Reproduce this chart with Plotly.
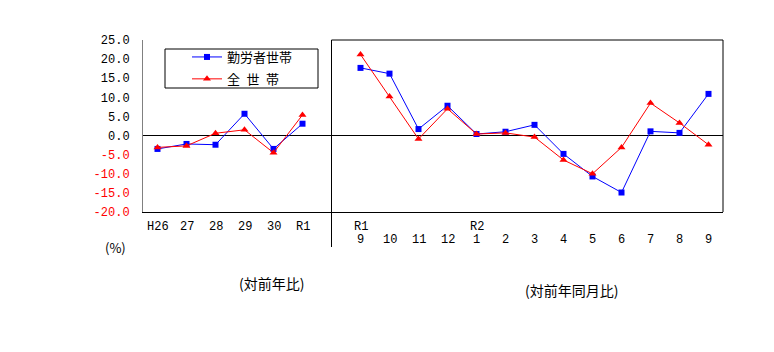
import plotly.graph_objects as go

# ---- data ----
left_labels = ["H26", "27", "28", "29", "30", "R1"]
right_top = ["R1", "", "", "", "R2", "", "", "", "", "", "", "", ""]
right_bottom = ["9", "10", "11", "12", "1", "2", "3", "4", "5", "6", "7", "8", "9"]

workers_annual = [-3.5, -2.2, -2.4, 5.7, -3.5, 3.1]
all_annual = [-3.1, -2.7, 0.6, 1.5, -4.5, 5.4]
workers_monthly = [17.7, 16.2, 1.7, 7.8, 0.4, 1.0, 2.8, -4.8, -10.7, -14.9, 1.1, 0.7, 10.9]
all_monthly = [21.2, 10.2, -0.9, 7.0, 0.4, 0.7, -0.4, -6.4, -10.0, -3.1, 8.5, 3.3, -2.4]

y_ticks = [25, 20, 15, 10, 5, 0, -5, -10, -15, -20]
series_names = ["勤労者世帯", "全\u2002世\u2002帯"]
note_unit = "(%)"
note_left = "(対前年比)"
note_right = "(対前年同月比)"

# ---- geometry helpers ----
W, H = 774, 352
L, R, T, B = 143, 723, 40, 212
def px_x(p):
    return (p - L) / (R - L)
def px_y(p):
    return (B - p) / (B - T)

n_left = len(left_labels)
n_right = len(right_bottom)
gap = n_left  # empty slot between panels
x_left = list(range(n_left))
x_right = [n_left + 1 + i for i in range(n_right)]
n_total = n_left + 1 + n_right

xs = x_left + [gap] + x_right
workers = workers_annual + [None] + workers_monthly
allh = all_annual + [None] + all_monthly

mono = "Liberation Mono, DejaVu Sans Mono, monospace"
jp = "Noto Sans CJK JP, sans-serif"

fig = go.Figure()
fig.add_trace(go.Scatter(
    x=xs, y=workers, name=series_names[0], mode="lines+markers",
    line=dict(color="#0000FF", width=1),
    marker=dict(symbol="square", size=6, color="#0000FF"),
    connectgaps=False, legendgroup="a"))
fig.add_trace(go.Scatter(
    x=xs, y=allh, name=series_names[1], mode="lines+markers",
    line=dict(color="#FF0000", width=1),
    marker=dict(symbol="triangle-up", size=7, color="#FF0000"),
    connectgaps=False, legendgroup="b"))
# empty helper trace so the overlay axis (red negative labels) is drawn
fig.add_trace(go.Scatter(x=[], y=[], yaxis="y2", showlegend=False, hoverinfo="skip"))

pos_ticks = [v for v in y_ticks if v >= 0]
neg_ticks = [v for v in y_ticks if v < 0]

sep_x = (gap + 0.5) / n_total

shapes = [
    dict(type="line", xref="paper", yref="paper", x0=sep_x, x1=sep_x,
         y0=1, y1=px_y(247), line=dict(color="black", width=1)),
    dict(type="line", xref="paper", yref="paper", x0=sep_x, x1=1,
         y0=1, y1=1, line=dict(color="black", width=1)),
    dict(type="line", xref="paper", yref="paper", x0=1, x1=1,
         y0=0, y1=1, line=dict(color="black", width=1)),
    dict(type="rect", xref="paper", yref="paper", x0=px_x(165), x1=px_x(318),
         y0=px_y(88), y1=px_y(49), line=dict(color="black", width=1),
         fillcolor="rgba(0,0,0,0)"),
]

annotations = []
def lab(x, y, text, font, xref="x", size=12):
    annotations.append(dict(x=x, y=y, xref=xref, yref="paper", text=text,
                            showarrow=False, xanchor="center", yanchor="middle",
                            font=dict(family=font, size=size, color="black")))

for i, t in enumerate(left_labels):
    lab(x_left[i], px_y(227), t, mono)
for i in range(n_right):
    if right_top[i]:
        lab(x_right[i], px_y(227), right_top[i], mono)
    lab(x_right[i], px_y(240), right_bottom[i], mono)
lab(px_x(115.5), px_y(247.5), note_unit, jp, xref="paper", size=13)
lab(px_x(271), px_y(283), note_left, jp, xref="paper", size=14)
lab(px_x(571), px_y(290), note_right, jp, xref="paper", size=14)

fig.update_layout(
    width=W, height=H,
    margin=dict(l=L, r=W - R, t=T, b=H - B, pad=0),
    paper_bgcolor="white", plot_bgcolor="white",
    showlegend=True,
    legend=dict(x=px_x(187), y=px_y(42), xanchor="left", yanchor="top",
                bgcolor="rgba(0,0,0,0)", borderwidth=0,
                font=dict(family=jp, size=13, color="black"),
                traceorder="grouped", tracegroupgap=2,
                itemwidth=30),
    xaxis=dict(range=[-0.5, n_total - 0.5], showticklabels=False, showgrid=False,
               zeroline=False, showline=True, linecolor="black", linewidth=1,
               ticks="", fixedrange=True),
    yaxis=dict(range=[-20, 25], tickvals=pos_ticks,
               ticktext=[f"{v:.1f}" for v in pos_ticks],
               showgrid=False, zeroline=True, zerolinecolor="black", zerolinewidth=1,
               showline=True, linecolor="#808080", linewidth=1,
               ticks="outside", ticklen=10, tickcolor="rgba(0,0,0,0)",
               tickfont=dict(family=mono, size=12, color="black"), fixedrange=True),
    yaxis2=dict(range=[-20, 25], overlaying="y", side="left", anchor="x",
                tickvals=neg_ticks, ticktext=[f"{v:.1f}" for v in neg_ticks],
                showgrid=False, zeroline=False, showline=False,
                ticks="outside", ticklen=10, tickcolor="rgba(0,0,0,0)",
                tickfont=dict(family=mono, size=12, color="#FF0000"), fixedrange=True),
    shapes=shapes, annotations=annotations,
)

fig.write_html("out.html")
